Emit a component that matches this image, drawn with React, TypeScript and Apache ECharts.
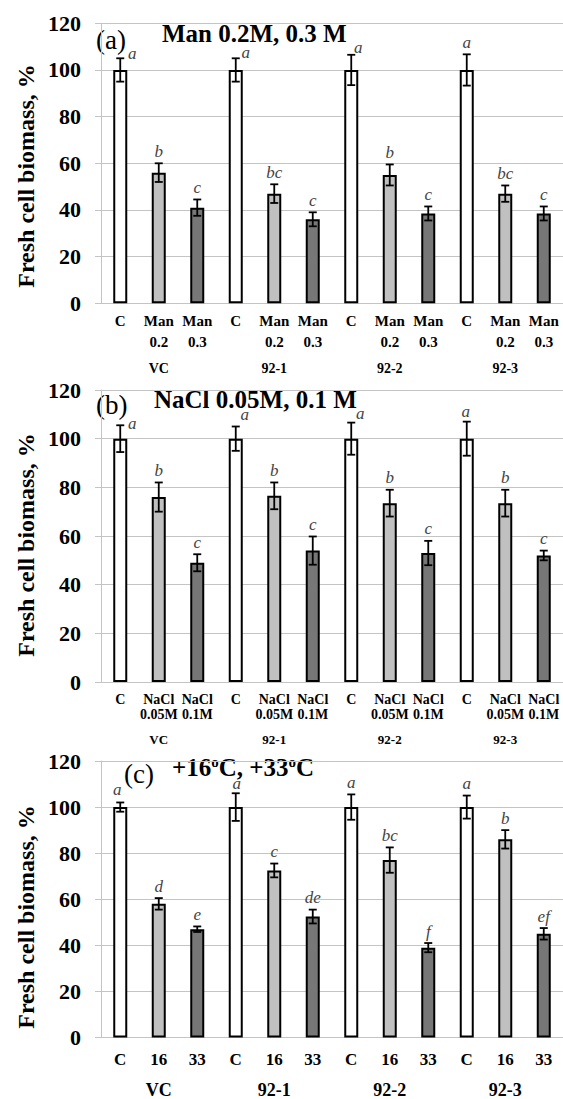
import React, { useEffect, useRef } from "react";
import * as echarts from "echarts";

const groups = ["VC", "92-1", "92-2", "92-3"];

const manTreatments = ["C", "Man\n0.2", "Man\n0.3"];
const manValues = [100, 56, 41, 100, 47, 36, 100, 55, 38.5, 100, 47, 38.5];
const manErrors = [5, 4, 3.5, 5, 4, 3, 6.5, 4.5, 3, 6.7, 3.5, 3];
const manLetters = ["a", "b", "c", "a", "bc", "c", "a", "b", "c", "a", "bc", "c"];

const naclTreatments = ["C", "NaCl\n0.05M", "NaCl\n0.1M"];
const naclValues = [100, 76, 49, 100, 76.5, 54, 100, 73.5, 53, 100, 73.5, 52];
const naclErrors = [5.5, 6, 3.5, 5, 5.5, 5.8, 6.6, 5.5, 5, 7, 5.5, 2];
const naclLetters = ["a", "b", "c", "a", "b", "c", "a", "b", "c", "a", "b", "c"];

const tempTreatments = ["C", "16", "33"];
const tempValues = [100, 58, 47, 100, 72.5, 52.5, 100, 77, 39, 100, 86, 45];
const tempErrors = [2, 2.5, 1.2, 6, 3, 3, 5.5, 5.5, 2, 5, 4, 2.5];
const tempLetters = ["a", "d", "e", "a", "c", "de", "a", "bc", "f", "a", "b", "ef"];

const yMin = 0;
const yMax = 120;
const yStep = 20;

const SERIF = "'Liberation Serif', 'Times New Roman', Times, serif";
const barColors = ["#ffffff", "#c0c0c0", "#777777"];
const gridColor = "#c4c4c4";

type Panel = {
  treatments: string[];
  values: number[];
  errors: number[];
  letters: string[];
  top: number;
  height: number;
  labelMargin: number;
  labelFont: { size: number; weight: string; lh: number };
  groupFont: { size: number; weight: string; lh: number };
  letterShift: Record<number, [number, number]>;
};

const panels: Panel[] = [
  {
    treatments: manTreatments, values: manValues, errors: manErrors, letters: manLetters,
    top: 23.3, height: 280, labelMargin: 7,
    labelFont: { size: 15, weight: "bold", lh: 21 },
    groupFont: { size: 14, weight: "bold", lh: 32 },
    letterShift: { 0: [12, 7], 3: [10, 6], 6: [7, 5] },
  },
  {
    treatments: naclTreatments, values: naclValues, errors: naclErrors, letters: naclLetters,
    top: 390, height: 292, labelMargin: 10,
    labelFont: { size: 14, weight: "bold", lh: 15 },
    groupFont: { size: 13, weight: "bold", lh: 35 },
    letterShift: { 0: [12, 10], 3: [9, 0], 6: [9, 3], 9: [-1, 2] },
  },
  {
    treatments: tempTreatments, values: tempValues, errors: tempErrors, letters: tempLetters,
    top: 761, height: 279, labelMargin: 12,
    labelFont: { size: 17, weight: "bold", lh: 20 },
    groupFont: { size: 18, weight: "bold", lh: 41 },
    letterShift: { 0: [-3, -1], 3: [1, 2] },
  },
];

export default function App() {
  const ref = useRef<HTMLDivElement>(null);
  useEffect(() => {
    if (!ref.current) return;
    const chart = echarts.init(ref.current, undefined, { renderer: "svg" });

    const grid: any[] = [];
    const xAxis: any[] = [];
    const yAxis: any[] = [];
    const series: any[] = [];

    panels.forEach((p, pi) => {
      const cats = groups.flatMap(() => p.treatments.map((t) => t));
      grid.push({ left: 101, right: 0, top: p.top, height: p.height });
      xAxis.push({
        type: "category",
        gridIndex: pi,
        data: cats,
        axisLine: { show: false },
        axisTick: { show: false },
        axisLabel: {
          interval: 0,
          margin: p.labelMargin,
          color: "#000",
          fontFamily: SERIF,
          formatter: (_v: string, idx: number) => {
            const t = idx % 3;
            const g = Math.floor(idx / 3);
            const lines = p.treatments[t].split("\n").map((s) => `{a|${s}}`);
            if (t === 1) lines.push(`{g|${groups[g]}}`);
            return lines.join("\n");
          },
          rich: {
            a: {
              fontFamily: SERIF, fontSize: p.labelFont.size, fontWeight: p.labelFont.weight,
              lineHeight: p.labelFont.lh, color: "#000", align: "center",
            },
            g: {
              fontFamily: SERIF, fontSize: p.groupFont.size, fontWeight: p.groupFont.weight,
              lineHeight: p.groupFont.lh, color: "#000", align: "center",
            },
          },
        },
      });
      yAxis.push({
        type: "value",
        gridIndex: pi,
        min: yMin,
        max: yMax,
        interval: yStep,
        axisLine: { show: true, lineStyle: { color: gridColor, width: 1 } },
        axisTick: { show: true, length: 6, lineStyle: { color: gridColor, width: 1 } },
        splitLine: { show: true, lineStyle: { color: gridColor, width: 1 } },
        axisLabel: {
          margin: 20, color: "#000", fontFamily: SERIF, fontSize: 22, fontWeight: "bold",
        },
      });
      series.push({
        type: "bar",
        xAxisIndex: pi,
        yAxisIndex: pi,
        barWidth: 14,
        data: p.values.map((v, i) => ({
          value: v,
          itemStyle: { color: barColors[i % 3], borderColor: "#000", borderWidth: 2 },
        })),
      });
      series.push({
        type: "custom",
        xAxisIndex: pi,
        yAxisIndex: pi,
        data: p.values.map((v, i) => [i, v]),
        encode: { x: 0, y: 1 },
        z: 5,
        renderItem: (params: any, api: any) => {
          const i = params.dataIndex;
          const v = p.values[i];
          const e = p.errors[i];
          const x = api.coord([i, v])[0];
          const yt = api.coord([i, v + e])[1];
          const yb = api.coord([i, v - e])[1];
          const st = { stroke: "#000", lineWidth: 1.8 };
          const shift = p.letterShift[i] || [0, 0];
          return {
            type: "group",
            children: [
              { type: "line", shape: { x1: x, y1: yt, x2: x, y2: yb }, style: st },
              { type: "line", shape: { x1: x - 4, y1: yt, x2: x + 4, y2: yt }, style: st },
              { type: "line", shape: { x1: x - 4, y1: yb, x2: x + 4, y2: yb }, style: st },
              {
                type: "text",
                x: x + shift[0],
                y: yt - 12 + shift[1],
                style: {
                  text: p.letters[i],
                  fill: "#444",
                  fontFamily: SERIF,
                  fontSize: 17,
                  fontStyle: "italic",
                  align: "center",
                  verticalAlign: "middle",
                },
              },
            ],
          };
        },
      });
    });

    const axisTitleCenters = [176, 545, 917];
    const graphic: any[] = [];
    axisTitleCenters.forEach((cy) => {
      graphic.push({
        type: "text",
        x: 26,
        y: cy,
        rotation: Math.PI / 2,
        style: {
          text: "Fresh cell biomass, %",
          fontFamily: SERIF,
          fontSize: 24,
          fontWeight: "bold",
          fill: "#000",
          align: "center",
          verticalAlign: "middle",
        },
      });
    });
    graphic.push({ type: "rect", shape: { x: 143, y: 18, width: 221, height: 10 }, style: { fill: "#fff" } });
    graphic.push({ type: "rect", shape: { x: 104, y: 385, width: 265, height: 10 }, style: { fill: "#fff" } });
    graphic.push({ type: "rect", shape: { x: 165, y: 756, width: 163, height: 10 }, style: { fill: "#fff" } });

    const txt = (text: string, x: number, y: number, size: number, weight: string, align: string) => ({
      type: "text", x, y,
      style: { text, fontFamily: SERIF, fontSize: size, fontWeight: weight, fill: "#000", align, verticalAlign: "middle" },
    });
    graphic.push(txt("(a)", 96, 40, 27, "normal", "left"));
    graphic.push(txt("Man 0.2M, 0.3 M", 162, 33, 25, "bold", "left"));
    graphic.push(txt("(b)", 96, 405, 27, "normal", "left"));
    graphic.push(txt("NaCl 0.05M, 0.1 M", 154, 399, 25, "bold", "left"));
    graphic.push(txt("(c)", 124, 774, 27, "normal", "left"));
    graphic.push({
      type: "text", x: 172, y: 767,
      style: {
        text: "{m|+16}{s|o}{m|C, +33}{s|o}{m|C}",
        align: "left",
        verticalAlign: "middle",
        rich: {
          m: { fontFamily: SERIF, fontSize: 25, fontWeight: "bold", fill: "#000", lineHeight: 25 },
          s: { fontFamily: SERIF, fontSize: 15, fontWeight: "bold", fill: "#000", lineHeight: 25, verticalAlign: "top" },
        },
      },
    });

    chart.setOption({
      animation: false,
      backgroundColor: "#fff",
      textStyle: { fontFamily: SERIF },
      grid,
      xAxis,
      yAxis,
      series,
      graphic,
    });
    return () => chart.dispose();
  }, []);
  return (
    <div
      ref={ref}
      style={{ position: "absolute", left: 0, top: 0, width: 563, height: 1099 }}
    />
  );
}
